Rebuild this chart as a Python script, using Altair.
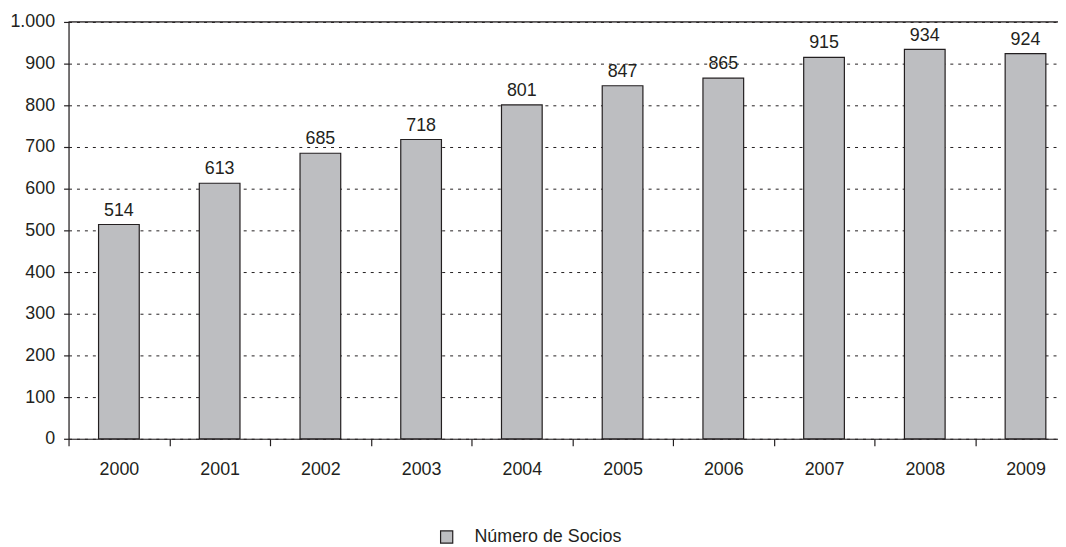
import altair as alt
import pandas as pd

years = ["2000", "2001", "2002", "2003", "2004", "2005", "2006", "2007", "2008", "2009"]
socios = [514, 613, 685, 718, 801, 847, 865, 915, 934, 924]
serie = "Número de Socios"
y_ticks = [0, 100, 200, 300, 400, 500, 600, 700, 800, 900, 1000]

df = pd.DataFrame({"year": years, "value": socios, "serie": [serie] * len(years)})

FONT = "Liberation Sans"
DARK = "#231f20"

x_enc = alt.X(
    "year:N",
    sort=years,
    scale=alt.Scale(range=[0, 1015], paddingInner=0, paddingOuter=0),
    axis=alt.Axis(
        title=None,
        labelAngle=0,
        tickBand="extent",
        tickSize=7,
        tickColor=DARK,
        tickWidth=1.2,
        domainColor=DARK,
        domainWidth=1.2,
        labelFont=FONT,
        labelFontSize=18,
        labelColor=DARK,
        labelPadding=15,
        grid=False,
    ),
)

y_scale = alt.Scale(domain=[0, 1000], nice=False)

bars = alt.Chart(df).mark_bar(size=41, stroke=DARK, strokeWidth=1.2).encode(
    x=x_enc,
    y=alt.Y(
        "value:Q",
        scale=y_scale,
        axis=alt.Axis(
            title=None,
            values=y_ticks,
            labelExpr="replace(format(datum.value, ','), ',', '.')",
            tickSize=5,
            tickColor=DARK,
            tickWidth=1.2,
            domainColor=DARK,
            domainWidth=1.2,
            labelFont=FONT,
            labelFontSize=18,
            labelColor=DARK,
            labelPadding=9,
            grid=True,
            gridColor=DARK,
            gridWidth=1,
            gridDash=[3, 5],
        ),
    ),
    color=alt.Color(
        "serie:N",
        scale=alt.Scale(range=["#bdbec1"]),
        legend=alt.Legend(
            title=None,
            orient="none",
            legendX=372,
            legendY=510,
            padding=0,
            symbolType="square",
            symbolSize=150,
            symbolStrokeColor=DARK,
            symbolStrokeWidth=1.2,
            symbolFillColor="#bdbec1",
            labelFont=FONT,
            labelFontSize=18,
            labelColor=DARK,
            labelOffset=19,
        ),
    ),
)

labels = alt.Chart(df).mark_text(
    dy=-9, baseline="alphabetic", font=FONT, fontSize=18, color=DARK
).encode(
    x=alt.X("year:N", sort=years),
    y=alt.Y("value:Q", scale=y_scale),
    text=alt.Text("value:Q"),
)

top_line = alt.Chart(pd.DataFrame({"v": [1000]})).mark_rule(
    color=DARK, strokeWidth=1.2
).encode(y=alt.Y("v:Q", scale=y_scale))

chart = (
    alt.layer(bars, labels, top_line)
    .properties(
        width=997,
        height=420,
        autosize=alt.AutoSizeParams(type="none"),
        padding={"left": 61, "top": 12, "right": 0, "bottom": 107},
    )
    .configure_view(stroke=None)
    .configure(background="white")
)

chart.save("out.html", embed_options={"renderer": "svg", "actions": False})
